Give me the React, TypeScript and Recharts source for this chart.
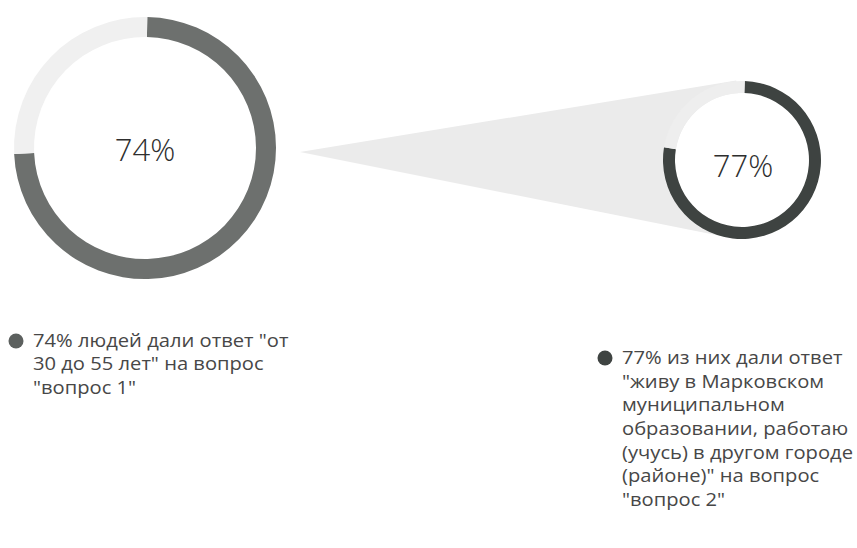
import React from "react";
import { PieChart, Pie, Cell } from "recharts";

const firstQuestion = [
  { name: "от 30 до 55 лет", value: 74 },
  { name: "другие ответы", value: 26 },
];
const secondQuestion = [
  { name: "живу в Марковском МО, работаю в другом городе", value: 77 },
  { name: "другие ответы", value: 23 },
];
const centerLabels = ["74%", "77%"];
const legendFirst = [
  "74% людей дали ответ \"от",
  "30 до 55 лет\" на вопрос",
  "\"вопрос 1\"",
];
const legendSecond = [
  "77% из них дали ответ",
  "\"живу в Марковском",
  "муниципальном",
  "образовании, работаю",
  "(учусь) в другом городе",
  "(районе)\" на вопрос",
  "\"вопрос 2\"",
];
const funnel = [{ name: "funnel", value: 1 }];

const BIG = { cx: 145, cy: 148, inner: 111, outer: 131 };
const SMALL = { cx: 742, cy: 160, inner: 67, outer: 79 };
const bigColors = ["#6d706e", "#f0f0f0"];
const smallColors = ["#3e4341", "#eeeeee"];
const FONT = "'Open Sans', 'Noto Sans', sans-serif";

const makeCenterLabel = (text: string, dx: number, dy: number) => (props: any) => {
  if (props.index !== 0) return null;
  return (
    <text
      x={props.cx + dx}
      y={props.cy + dy}
      textAnchor="middle"
      fontFamily={FONT}
      fontSize={31}
      fontWeight={300}
      fill="#2e2e2e"
    >
      {text}
    </text>
  );
};

const LegendBlock = ({ x, y, lines, dot, lh }: { x: number; y: number; lines: string[]; dot: string; lh: number }) => (
  <g fontFamily={FONT}>
    <circle cx={x - 17} cy={y - 6} r={7.5} fill={dot} />
    <text
      x={x}
      y={y}
      fontSize={18}
      fill="#474747"
      transform={`translate(${x},0) scale(1.12,1) translate(${-x},0)`}
    >
      {lines.map((line, i) => (
        <tspan key={i} x={x} dy={i === 0 ? 0 : lh}>
          {line}
        </tspan>
      ))}
    </text>
  </g>
);

export default function App() {
  return (
    <div style={{ position: "absolute", left: 0, top: 0, background: "#fff" }}>
      <PieChart width={857} height={548} margin={{ top: 0, right: 0, bottom: 0, left: 0 }}>
        <Pie
          data={funnel}
          dataKey="value"
          cx={300}
          cy={152}
          startAngle={-11.3}
          endAngle={9.3}
          innerRadius={0}
          outerRadius={442}
          stroke="none"
          fill="#ebebeb"
          isAnimationActive={false}
        />
        <Pie
          data={firstQuestion}
          dataKey="value"
          cx={BIG.cx}
          cy={BIG.cy}
          startAngle={89}
          endAngle={-271}
          innerRadius={BIG.inner}
          outerRadius={BIG.outer}
          stroke="none"
          label={makeCenterLabel(centerLabels[0], 0, 13)}
          labelLine={false}
          isAnimationActive={false}
        >
          {firstQuestion.map((d, i) => (
            <Cell key={d.name} fill={bigColors[i]} />
          ))}
        </Pie>
        <Pie
          data={funnel}
          dataKey="value"
          cx={SMALL.cx}
          cy={SMALL.cy}
          innerRadius={0}
          outerRadius={SMALL.inner}
          stroke="none"
          fill="#ffffff"
          isAnimationActive={false}
        />
        <Pie
          data={secondQuestion}
          dataKey="value"
          cx={SMALL.cx}
          cy={SMALL.cy}
          startAngle={88}
          endAngle={-272}
          innerRadius={SMALL.inner}
          outerRadius={SMALL.outer}
          stroke="none"
          label={makeCenterLabel(centerLabels[1], 1, 17)}
          labelLine={false}
          isAnimationActive={false}
        >
          {secondQuestion.map((d, i) => (
            <Cell key={d.name} fill={smallColors[i]} />
          ))}
        </Pie>
        <LegendBlock x={33} y={347} lines={legendFirst} dot="#5c605e" lh={23.5} />
        <LegendBlock x={622} y={364} lines={legendSecond} dot="#3f4442" lh={23.7} />
      </PieChart>
    </div>
  );
}
